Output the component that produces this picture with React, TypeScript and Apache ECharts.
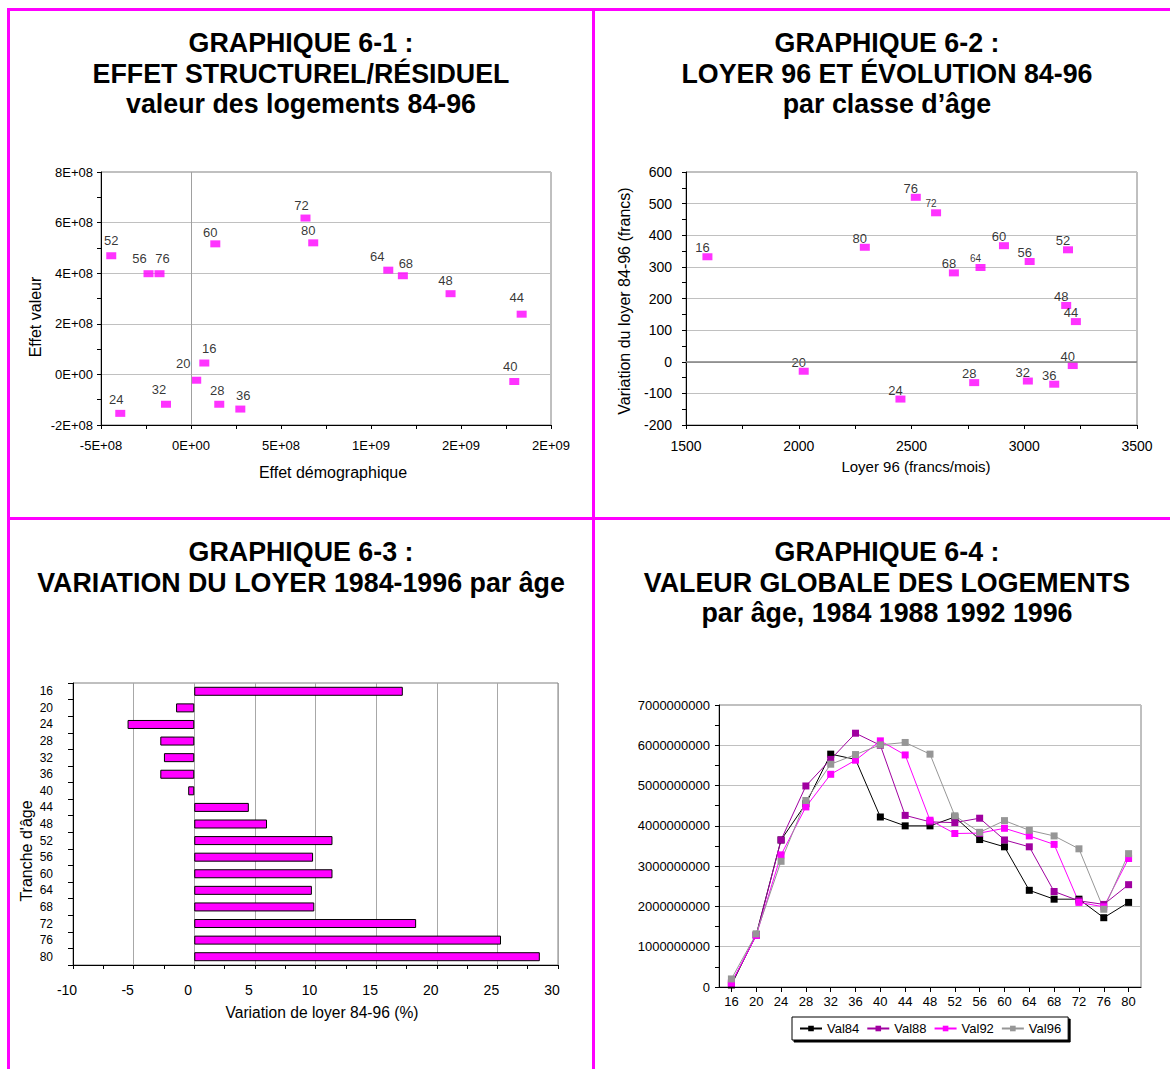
import React, { useEffect, useRef } from "react";
import * as echarts from "echarts";

// ---------- DATA ----------
const ages = ["16", "20", "24", "28", "32", "36", "40", "44", "48", "52", "56", "60", "64", "68", "72", "76", "80"];

// Graphique 6-1 : effet démographique (x) / effet valeur (y)
const effetDemographique = [7.4e7, 2.9e7, -3.93e8, 1.57e8, -1.39e8, 2.74e8, 1.796e9, 1.837e9, 1.442e9, -4.43e8, -2.36e8, 1.35e8, 1.096e9, 1.177e9, 6.36e8, -1.75e8, 6.79e8];
const effetValeur = [4.5e7, -2.3e7, -1.54e8, -1.18e8, -1.18e8, -1.37e8, -2.8e7, 2.38e8, 3.19e8, 4.69e8, 3.98e8, 5.16e8, 4.12e8, 3.9e8, 6.18e8, 3.98e8, 5.2e8];

// Graphique 6-2 : loyer 96 (x) / variation 84-96 (y)
const loyer96 = [1595, 2022, 2451, 2778, 3016, 3133, 3215, 3229, 3186, 3194, 3024, 2910, 2806, 2688, 2609, 2519, 2293];
const variationLoyer = [332, -30, -118, -66, -61, -71, -12, 127, 178, 354, 317, 367, 298, 281, 471, 520, 362];

// Graphique 6-3 : variation du loyer (%)
const variationPct = [17.2, -1.5, -5.5, -2.8, -2.5, -2.8, -0.5, 4.5, 6.0, 11.4, 9.8, 11.4, 9.7, 9.9, 18.3, 25.3, 28.5];

// Graphique 6-4 : valeur globale des logements
const val84 = [0.05e9, 1.30e9, 3.65e9, 4.55e9, 5.78e9, 5.65e9, 4.22e9, 4.00e9, 4.00e9, 4.22e9, 3.66e9, 3.48e9, 2.40e9, 2.18e9, 2.18e9, 1.72e9, 2.10e9];
const val88 = [0.10e9, 1.28e9, 3.65e9, 4.99e9, 5.65e9, 6.30e9, 6.00e9, 4.26e9, 4.10e9, 4.08e9, 4.19e9, 3.65e9, 3.48e9, 2.37e9, 2.14e9, 2.05e9, 2.54e9];
const val92 = [0.10e9, 1.28e9, 3.28e9, 4.47e9, 5.28e9, 5.63e9, 6.11e9, 5.76e9, 4.14e9, 3.81e9, 3.82e9, 3.94e9, 3.75e9, 3.54e9, 2.10e9, 1.99e9, 3.19e9];
const val96 = [0.20e9, 1.32e9, 3.12e9, 4.63e9, 5.53e9, 5.77e9, 6.01e9, 6.07e9, 5.78e9, 4.25e9, 3.84e9, 4.13e9, 3.89e9, 3.75e9, 3.43e9, 1.93e9, 3.31e9];
const seriesNames4 = ["Val84", "Val88", "Val92", "Val96"];

// label placement (pixel shift from marker) for graphique 6-1
const labelShift1 = [[5, -15], [-13, -17], [-4, -14], [-2, -14], [-7, -15], [3, -14], [-4, -15], [-5, -17], [-5, -13], [0, -15], [-9, -15], [-5, -11], [-11, -14], [3, -12], [-4, -13], [3, -15], [-5, -12]];
const smallLabels2 = ["72", "64"];

// ---------- STYLE ----------
const FONT = '"Liberation Sans", Arial, Helvetica, sans-serif';
const MAGENTA = "#FF00FF";
const GRIDC = "#c0c0c0";

function fmtE(v: number): string {
  if (Math.abs(v) < 1e-3) return "0E+00";
  const s = v.toExponential(0);
  const [m, e] = s.split("e");
  const sign = e[0];
  const digits = e.slice(1).padStart(2, "0");
  return m + "E" + sign + digits;
}

const plain = (v: number) => String(Math.round(v));

function valueAxis(gridIndex: number, min: number, max: number, interval: number, fontSize: number, margin: number, extra: any = {}) {
  return {
    type: "value",
    gridIndex,
    min,
    max,
    interval,
    axisLine: { show: true, onZero: false, lineStyle: { color: "#000", width: 1 } },
    axisTick: { show: true, length: 4, lineStyle: { color: "#000" } },
    minorTick: { show: true, splitNumber: 2, length: 4, lineStyle: { color: "#000" } },
    splitLine: { show: false },
    axisLabel: { fontSize, color: "#000", fontFamily: FONT, margin, formatter: plain },
    ...extra,
  };
}

function titleLines(cx: number, lines: string[], ys: number[]) {
  return lines.map((t, i) => ({
    type: "text",
    x: cx,
    y: ys[i],
    style: { text: t, fontSize: 26.8, fontWeight: "bold", fontFamily: FONT, fill: "#000", align: "center", verticalAlign: "middle" },
  }));
}

function axisTitle(x: number, y: number, text: string, vertical: boolean, size = 16) {
  return {
    type: "text",
    x,
    y,
    rotation: vertical ? Math.PI / 2 : 0,
    style: { text, fontSize: size, fontFamily: FONT, fill: "#000", align: "center", verticalAlign: "middle" },
  };
}

export default function App() {
  const ref = useRef<HTMLDivElement>(null);

  useEffect(() => {
    document.body.style.margin = "0";
    if (!ref.current) return;
    const chart = echarts.init(ref.current, null, { renderer: "svg" });

    const data1 = ages.map((a, i) => ({
      name: a,
      value: [effetDemographique[i], effetValeur[i]],
      label: { offset: labelShift1[i] },
    }));
    const data2 = ages.map((a, i) => ({
      name: a,
      value: [loyer96[i], variationLoyer[i]],
      label: smallLabels2.includes(a) ? { fontSize: 10 } : {},
    }));

    const lineColors = ["#000000", "#A000A0", MAGENTA, "#969696"];
    const lineData = [val84, val88, val92, val96];

    const option: any = {
      animation: false,
      backgroundColor: "#fff",
      textStyle: { fontFamily: FONT },
      grid: [
        { left: 101, top: 172, width: 450, height: 253, show: true, borderColor: "#808080", borderWidth: 1, backgroundColor: "transparent" },
        { left: 686, top: 172, width: 451, height: 253, show: true, borderColor: "#808080", borderWidth: 1, backgroundColor: "transparent" },
        { left: 73, top: 683, width: 485, height: 282, show: true, borderColor: "#808080", borderWidth: 1, backgroundColor: "transparent" },
        { left: 719, top: 705, width: 422, height: 282, show: true, borderColor: "#808080", borderWidth: 1, backgroundColor: "transparent" },
      ],
      xAxis: [
        valueAxis(0, -5e8, 2e9, 5e8, 13, 14, { axisLabel: { fontSize: 13, color: "#000", fontFamily: FONT, margin: 14, formatter: fmtE } }),
        valueAxis(1, 1500, 3500, 500, 14, 14),
        valueAxis(2, -10, 30, 5, 14, 18, {
          splitLine: { show: true, lineStyle: { color: "#a8a8a8", width: 1 } },
          axisLabel: { fontSize: 14, color: "#000", fontFamily: FONT, margin: 18, formatter: plain, padding: [0, 12, 0, 0] },
        }),
        {
          type: "category",
          gridIndex: 3,
          data: ages,
          boundaryGap: true,
          axisLine: { show: true, onZero: false, lineStyle: { color: "#000" } },
          axisTick: { show: true, alignWithLabel: true, length: 5, lineStyle: { color: "#000" } },
          axisLabel: { fontSize: 13, color: "#000", fontFamily: FONT, margin: 8, interval: 0 },
          splitLine: { show: false },
        },
      ],
      yAxis: [
        valueAxis(0, -2e8, 8e8, 2e8, 13, 8, {
          axisLabel: { fontSize: 13, color: "#000", fontFamily: FONT, margin: 8, formatter: fmtE },
          splitLine: { show: true, lineStyle: { color: GRIDC, width: 1 } },
        }),
        valueAxis(1, -200, 600, 100, 14, 14, { splitLine: { show: true, lineStyle: { color: GRIDC, width: 1 } } }),
        {
          type: "category",
          gridIndex: 2,
          data: ages,
          inverse: true,
          boundaryGap: true,
          axisLine: { show: true, onZero: false, lineStyle: { color: "#000" } },
          axisTick: { show: true, length: 5, lineStyle: { color: "#000" } },
          axisLabel: { fontSize: 12, color: "#000", fontFamily: FONT, margin: 20, interval: 0 },
          splitLine: { show: false },
        },
        valueAxis(3, 0, 7e9, 1e9, 13, 9, {
          splitLine: { show: true, lineStyle: { color: GRIDC, width: 1 } },
        }),
      ],
      legend: {
        data: seriesNames4,
        left: 792,
        top: 1017,
        orient: "horizontal",
        itemWidth: 22,
        itemHeight: 7,
        itemGap: 7,
        padding: [5, 7],
        borderColor: "#000",
        borderWidth: 1,
        backgroundColor: "#fff",
        shadowColor: "#000",
        shadowOffsetX: 2,
        shadowOffsetY: 2,
        shadowBlur: 0,
        textStyle: { fontSize: 13, color: "#000", fontFamily: FONT },
      },
      series: [
        {
          type: "scatter",
          xAxisIndex: 0,
          yAxisIndex: 0,
          symbol: "rect",
          symbolSize: [10, 7],
          itemStyle: { color: MAGENTA },
          data: data1,
          label: { show: true, position: "inside", formatter: "{b}", fontSize: 13, color: "#000", fontFamily: FONT },
          markLine: {
            silent: true,
            symbol: ["none", "none"],
            label: { show: false },
            lineStyle: { color: "#a0a0a0", type: "solid", width: 1 },
            data: [{ xAxis: 0 }],
          },
        },
        {
          type: "scatter",
          xAxisIndex: 1,
          yAxisIndex: 1,
          symbol: "rect",
          symbolSize: [10, 7],
          itemStyle: { color: MAGENTA },
          data: data2,
          label: { show: true, position: "inside", offset: [-5, -9], formatter: "{b}", fontSize: 13, color: "#000", fontFamily: FONT },
          markLine: {
            silent: true,
            symbol: ["none", "none"],
            label: { show: false },
            lineStyle: { color: "#808080", type: "solid", width: 1.5 },
            data: [{ yAxis: 0 }],
          },
        },
        {
          type: "bar",
          xAxisIndex: 2,
          yAxisIndex: 2,
          data: variationPct,
          barWidth: 9,
          itemStyle: { color: MAGENTA, borderColor: "#000", borderWidth: 1 },
        },
        ...lineData.map((d, i) => ({
          type: "line",
          name: seriesNames4[i],
          xAxisIndex: 3,
          yAxisIndex: 3,
          data: d,
          symbol: "rect",
          symbolSize: 7,
          showAllSymbol: true,
          lineStyle: { width: 1, color: lineColors[i] },
          itemStyle: { color: lineColors[i] },
        })),
      ],
      graphic: [
        // magenta frame
        { type: "rect", shape: { x: 7, y: 8, width: 1163, height: 3 }, style: { fill: MAGENTA }, z: 100 },
        { type: "rect", shape: { x: 7, y: 8, width: 3, height: 1061 }, style: { fill: MAGENTA }, z: 100 },
        { type: "rect", shape: { x: 592, y: 8, width: 3, height: 1061 }, style: { fill: MAGENTA }, z: 100 },
        { type: "rect", shape: { x: 7, y: 517, width: 1163, height: 3 }, style: { fill: MAGENTA }, z: 100 },
        // titles
        ...titleLines(301, ["GRAPHIQUE 6-1 :", "EFFET STRUCTUREL/RÉSIDUEL", "valeur des logements 84-96"], [43, 74, 104]),
        ...titleLines(887, ["GRAPHIQUE 6-2 :", "LOYER 96 ET ÉVOLUTION 84-96", "par classe d’âge"], [43, 74, 104]),
        ...titleLines(301, ["GRAPHIQUE 6-3 :", "VARIATION DU LOYER 1984-1996 par âge"], [552, 583]),
        ...titleLines(887, ["GRAPHIQUE 6-4 :", "VALEUR GLOBALE DES LOGEMENTS", "par âge, 1984 1988 1992 1996"], [552, 583, 613]),
        // axis titles
        axisTitle(35, 317, "Effet valeur", true),
        axisTitle(333, 472, "Effet démographique", false),
        axisTitle(624, 301, "Variation du loyer 84-96 (francs)", true),
        axisTitle(916, 466, "Loyer 96 (francs/mois)", false, 15),
        axisTitle(26, 851, "Tranche d'âge", true),
        axisTitle(322, 1012, "Variation de loyer 84-96 (%)", false, 15.6),
      ],
    };

    chart.setOption(option);
    return () => chart.dispose();
  }, []);

  return <div ref={ref} style={{ position: "absolute", left: 0, top: 0, width: 1170, height: 1069 }} />;
}
